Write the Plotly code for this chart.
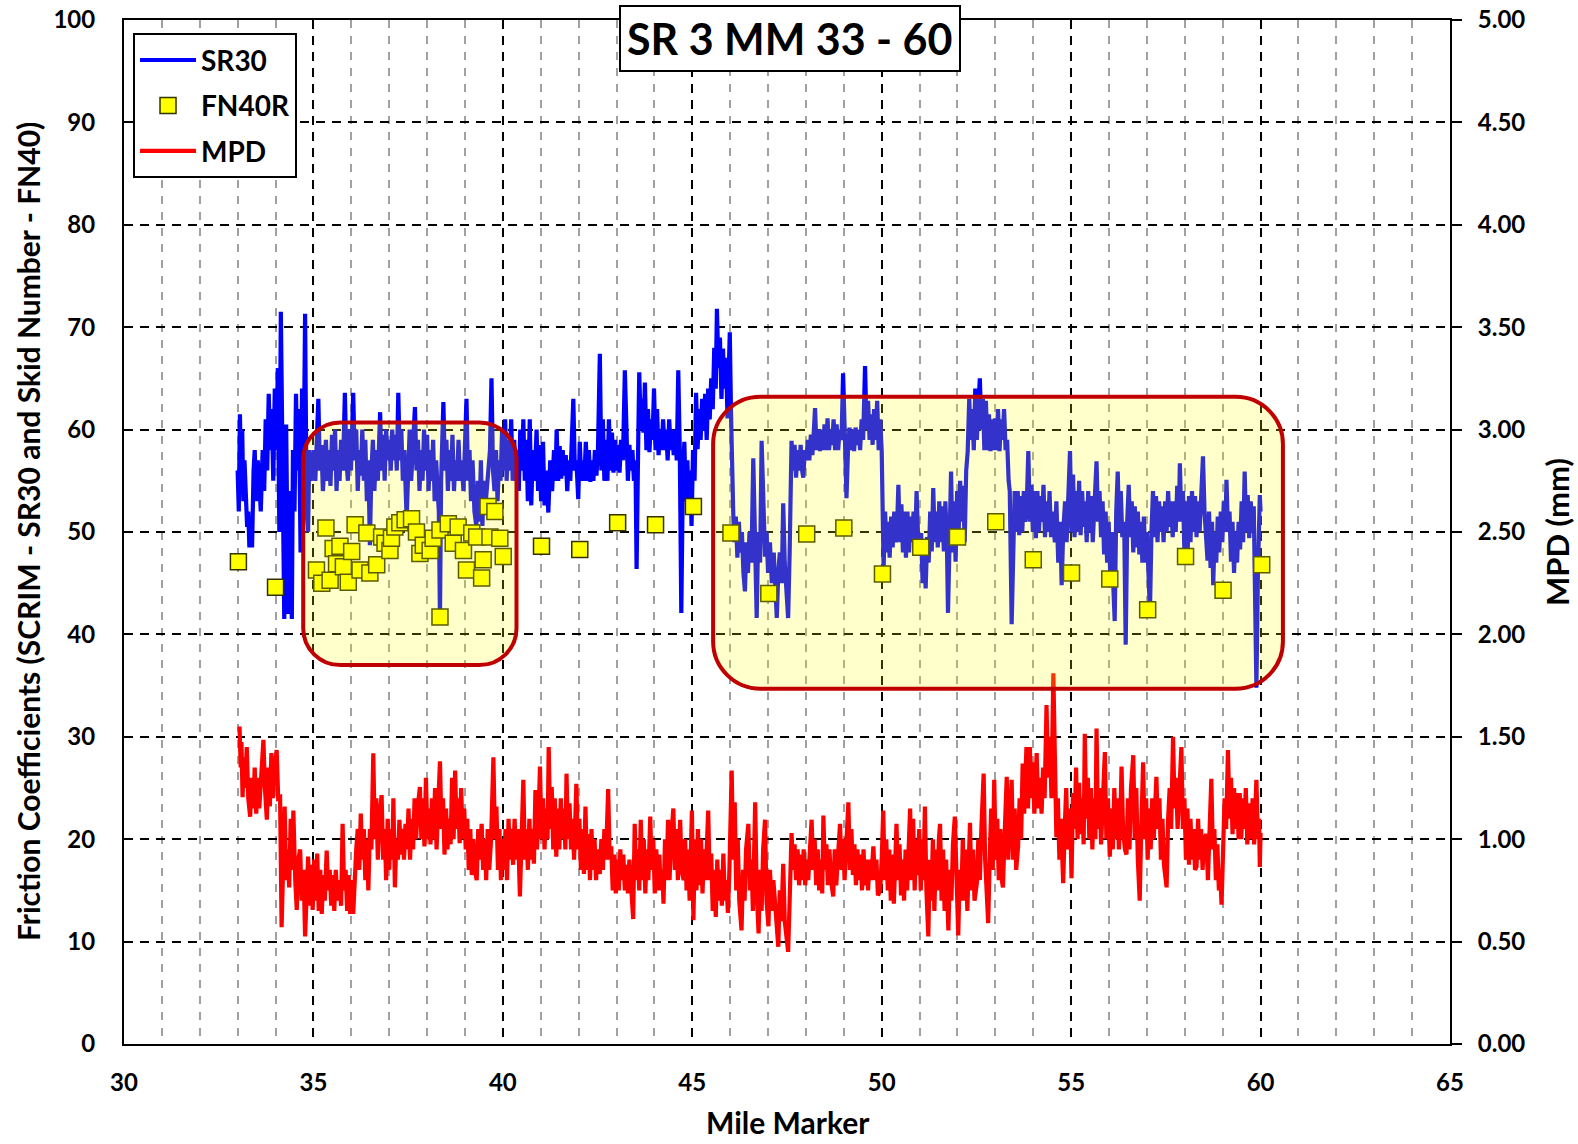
import plotly.graph_objects as go

# ---------------- data ----------------
sr30_points = [
(33.00,56),(33.03,52),(33.06,61.5),(33.09,55),(33.12,60),(33.15,53),(33.18,57),(33.21,54),(33.25,50.5),(33.28,52),
(33.31,48.5),(33.35,50),(33.38,48.5),(33.42,56),(33.45,58),(33.49,53),(33.53,57),(33.57,55),(33.61,52),(33.66,58),
(33.70,54),(33.74,61),(33.78,56),(33.82,63.5),(33.86,58),(33.90,62),(33.94,55),(33.98,64),(34.02,58),(34.06,66),
(34.10,50),(34.14,71.5),(34.17,60),(34.20,45),(34.23,41.5),(34.26,55),(34.28,60.5),(34.31,50),(34.34,42),(34.37,54),
(34.40,48),(34.43,41.5),(34.46,58),(34.50,52),(34.54,63.5),(34.58,56),(34.62,62),(34.66,48),(34.70,64),(34.74,55),
(34.78,71.3),(34.82,52),(34.86,50),(34.89,58),(34.93,55),(34.97,56),(35.01,58),(35.05,55),(35.09,59),(35.13,63),
(35.17,56),(35.21,58.5),(35.25,54),(35.29,57),(35.33,59),(35.37,55),(35.41,58),(35.45,54.5),(35.49,59.5),(35.53,56),
(35.57,60),(35.61,54),(35.65,58),(35.69,55),(35.73,59),(35.78,56),(35.83,63.6),(35.87,57),(35.91,55),(35.95,60),
(35.99,56),(36.05,63.6),(36.09,57),(36.13,60),(36.17,54),(36.21,58),(36.25,55.5),(36.29,60),(36.33,55),(36.37,59),
(36.41,53),(36.45,57),(36.49,48.7),(36.53,56),(36.57,59),(36.61,54),(36.65,58),(36.70,55),(36.76,61.7),(36.80,56),
(36.84,59.5),(36.88,55),(36.92,60),(36.96,57),(37.00,59),(37.04,56),(37.08,60),(37.12,57),(37.16,59.5),(37.20,56),
(37.24,63.6),(37.28,57),(37.32,60),(37.36,55),(37.40,58),(37.46,51.3),(37.50,57),(37.54,60),(37.58,55),(37.63,59),
(37.68,62.2),(37.72,56),(37.76,59),(37.80,54),(37.84,58),(37.88,55),(37.92,60),(37.96,56),(38.00,59.5),(38.04,54),
(38.08,58),(38.12,55),(38.16,59),(38.20,53),(38.24,57),(38.28,54),(38.31,52),(38.34,41.5),(38.37,55),(38.43,62.7),
(38.47,56),(38.51,59),(38.55,54),(38.59,58),(38.63,55),(38.67,59.5),(38.71,54),(38.75,57),(38.79,55),(38.83,59),
(38.87,55),(38.91,57),(38.96,54),(39.04,63),(39.08,55),(39.12,58),(39.16,53),(39.20,57),(39.25,52),(39.30,50.6),
(39.34,55),(39.38,51),(39.42,57),(39.46,50.6),(39.50,55),(39.55,53),(39.60,56),(39.66,58),(39.70,65),(39.74,56),
(39.78,54),(39.82,58),(39.86,53),(39.90,57),(39.94,55),(39.98,60),(40.02,56),(40.06,61),(40.10,55),(40.14,59),
(40.18,56),(40.22,61),(40.26,55),(40.30,59),(40.34,55),(40.38,58),(40.42,54),(40.46,60),(40.50,56),(40.54,61),
(40.58,55),(40.62,59),(40.66,53),(40.71,61),(40.75,52.6),(40.79,58),(40.84,55),(40.89,60),(40.93,54),(40.97,58.5),
(41.01,53),(41.06,58.8),(41.10,52.6),(41.15,56),(41.20,51.9),(41.25,57),(41.30,54),(41.35,58),(41.39,55),(41.42,60),
(41.46,55),(41.50,58.4),(41.54,55.2),(41.58,58),(41.62,55.5),(41.66,57.5),(41.70,54),(41.74,57),(41.78,55),(41.82,58),
(41.86,63),(41.90,56),(41.94,57),(41.99,53.2),(42.03,58.8),(42.07,55),(42.11,57),(42.15,55),(42.19,58.8),(42.23,55),
(42.27,58),(42.31,54.9),(42.35,57),(42.39,55),(42.43,58),(42.47,55.5),(42.51,58),(42.56,67.4),(42.60,56),(42.64,61),
(42.68,55),(42.72,59),(42.76,55),(42.80,61),(42.84,56),(42.88,59.7),(42.92,55.8),(42.96,59),(43.00,56),(43.04,58.5),
(43.08,55.8),(43.12,59),(43.17,57),(43.22,65.8),(43.26,58),(43.30,55),(43.34,58.5),(43.38,56),(43.42,58),(43.46,55),
(43.50,57),(43.53,46.4),(43.57,58),(43.60,65.6),(43.64,60),(43.68,63),(43.71,59.7),(43.75,64.6),(43.79,58),(43.83,62),
(43.87,57.8),(43.91,61),(43.95,59),(43.99,64),(44.03,58),(44.07,62),(44.11,57.5),(44.15,60),(44.19,58),(44.23,61),
(44.27,58),(44.31,60),(44.35,57),(44.39,61),(44.43,58),(44.47,60),(44.51,57.5),(44.55,60),(44.59,57),(44.63,65.8),
(44.67,58),(44.71,42.1),(44.75,55),(44.79,58.8),(44.83,53),(44.87,57),(44.91,52),(44.95,56),(44.98,50.6),(45.02,58),
(45.06,55),(45.10,63.6),(45.14,58.1),(45.18,62),(45.22,59),(45.26,63),(45.30,60),(45.34,63.5),(45.38,59),(45.42,64),
(45.46,61),(45.50,65),(45.54,62),(45.58,68),(45.62,64),(45.65,71.8),(45.69,66),(45.73,69),(45.77,63),(45.81,67.9),
(45.85,64),(45.89,67),(45.93,61.1),(45.96,66),(45.99,69.5),(46.02,62),(46.05,55.3),(46.08,52),(46.11,49),(46.15,51.5),
(46.19,47.5),(46.23,51),(46.27,48),(46.31,50),(46.35,46),(46.39,44.2),(46.43,49),(46.47,46),(46.51,50),(46.56,47),
(46.61,57.2),(46.65,48),(46.70,41.6),(46.74,50),(46.79,47),(46.83,58.9),(46.88,50),(46.92,47.6),(46.96,50),(47.00,46),
(47.05,49),(47.10,45),(47.15,48),(47.19,44),(47.23,41.6),(47.27,46),(47.31,48),(47.36,45),(47.40,52.8),(47.44,47),
(47.48,44),(47.53,41.6),(47.57,48),(47.62,58.9),(47.66,56),(47.70,58.5),(47.74,55.3),(47.78,58),(47.82,56),(47.86,58.5),
(47.90,56),(47.93,55.3),(47.97,58),(48.01,57),(48.05,59),(48.09,57),(48.13,59.5),(48.17,57.5),(48.21,60),(48.24,62.1),
(48.28,58),(48.33,60),(48.37,57.9),(48.41,60),(48.45,58),(48.49,60.5),(48.53,58),(48.57,61.1),(48.61,58),(48.65,60),
(48.69,58.5),(48.73,61),(48.77,58),(48.81,60.5),(48.85,58),(48.89,60),(48.94,59),(48.98,65.5),(49.03,59),(49.07,53.3),
(49.11,58),(49.15,60.2),(49.19,58),(49.23,60),(49.27,57.9),(49.31,60.2),(49.35,58.5),(49.39,60),(49.43,58),(49.47,61),
(49.51,59),(49.56,66.2),(49.60,60),(49.64,62.8),(49.68,59),(49.72,61.5),(49.76,58.5),(49.80,62),(49.84,59),(49.88,62.8),
(49.92,58),(49.96,61),(50.00,57.9),(50.02,50),(50.05,46.5),(50.09,52),(50.13,48),(50.17,51),(50.21,47.5),(50.25,51.5),
(50.29,48.5),(50.33,52),(50.37,49),(50.41,51),(50.44,54.6),(50.48,49),(50.52,52.7),(50.56,48),(50.60,52),(50.64,47.5),
(50.68,52),(50.72,48),(50.76,51.5),(50.80,49),(50.84,52),(50.88,48.5),(50.92,54),(50.96,49.5),(51.00,48),(51.04,49.9),
(51.08,45),(51.12,49),(51.16,44.5),(51.20,49.5),(51.24,47),(51.28,52),(51.32,48.1),(51.36,54.3),(51.40,49),(51.44,52),
(51.48,48.5),(51.52,53),(51.56,49),(51.60,52.5),(51.64,48.1),(51.68,53),(51.72,49),(51.75,42.1),(51.79,50),(51.83,55.9),
(51.87,48),(51.91,53),(51.95,47.1),(51.99,54),(52.03,50),(52.07,55),(52.11,51),(52.15,54.5),(52.19,49),(52.23,56),
(52.27,57.9),(52.31,63),(52.35,59),(52.39,62),(52.43,58),(52.47,64),(52.51,59),(52.55,62),(52.59,65),(52.63,60),
(52.67,63),(52.71,58),(52.75,62.8),(52.79,58),(52.83,61.5),(52.87,57.9),(52.91,61),(52.95,58),(52.99,61.1),(53.03,58),
(53.07,62),(53.11,57.9),(53.15,61),(53.19,59),(53.23,62),(53.27,58),(53.31,59),(53.35,55),(53.38,54),(53.43,41),
(53.47,48),(53.51,54),(53.55,50),(53.59,54),(53.63,49.7),(53.67,53.5),(53.71,50),(53.75,54),(53.79,51),(53.83,53),
(53.87,57.9),(53.91,51),(53.95,54.6),(53.99,50),(54.03,54),(54.07,49.4),(54.11,54),(54.15,50),(54.19,53.5),(54.23,51),
(54.27,54.6),(54.31,49.5),(54.35,53),(54.39,50),(54.43,54),(54.47,49.5),(54.51,52),(54.57,49),(54.61,53),(54.66,47),
(54.71,51),(54.75,44.8),(54.79,50),(54.84,53),(54.88,49),(54.92,53),(54.97,57.9),(55.01,50),(55.05,55.6),(55.09,49.5),
(55.13,54),(55.17,50),(55.21,55),(55.25,49.7),(55.29,54),(55.33,50.5),(55.37,53),(55.41,49),(55.45,54),(55.49,50),
(55.53,53.5),(55.57,49),(55.62,53),(55.67,56.9),(55.71,51),(55.75,54),(55.79,49.5),(55.83,53),(55.87,47.8),(55.91,52),
(55.95,47),(55.99,51),(56.03,46),(56.07,50),(56.11,45),(56.15,41.3),(56.19,52),(56.23,55.9),(56.27,50),(56.31,54),
(56.35,49.5),(56.40,51),(56.44,39),(56.48,51),(56.52,54.6),(56.56,49.5),(56.60,53),(56.64,48),(56.68,52.5),(56.72,48.5),
(56.76,52),(56.80,47.8),(56.84,51),(56.88,47),(56.92,51.5),(56.96,47),(57.00,50),(57.04,46),(57.08,42.2),(57.12,50),
(57.16,54),(57.20,49.5),(57.24,53.5),(57.28,49),(57.32,53),(57.36,50),(57.40,52.5),(57.44,49),(57.48,53),(57.52,50),
(57.56,54),(57.60,50.5),(57.64,53),(57.68,49.5),(57.72,53),(57.76,50),(57.80,54.5),(57.84,51),(57.87,56.7),(57.91,51),
(57.95,54),(57.99,48),(58.03,53),(58.07,47),(58.11,53.5),(58.15,49),(58.19,54),(58.23,50),(58.27,53.5),(58.31,49.5),
(58.35,53),(58.39,50),(58.44,54),(58.48,57.4),(58.52,52),(58.56,50),(58.60,47.2),(58.64,52),(58.68,46.5),(58.72,51),
(58.75,44.8),(58.79,50),(58.83,47),(58.87,51.5),(58.91,48),(58.95,52),(58.99,49),(59.03,53),(59.07,50),(59.10,55.1),
(59.14,50),(59.18,52),(59.22,47.1),(59.26,51),(59.30,46),(59.34,50),(59.38,47),(59.42,51),(59.46,48.3),(59.50,53),
(59.54,49),(59.58,55.9),(59.62,50),(59.66,53.6),(59.70,49.4),(59.74,53),(59.78,50),(59.82,52.5),(59.85,45),(59.89,34.8),
(59.93,46),(59.96,51),(59.98,53.6),(60.00,52),
]

fn40r_points = [
(33.02,47.1),(34.00,44.6),
(35.08,46.3),(35.22,45.0),(35.33,50.4),(35.44,45.3),(35.52,48.4),(35.61,46.9),(35.70,48.6),(35.79,46.6),(35.92,45.1),
(36.01,48.1),(36.10,50.7),(36.23,46.3),(36.41,49.9),(36.49,46.0),(36.67,46.8),(36.80,49.5),(36.89,48.9),(37.02,48.2),
(37.06,49.4),(37.15,50.5),(37.28,50.9),(37.42,51.2),(37.59,51.3),(37.72,50.0),(37.81,47.9),(37.90,48.7),(38.08,48.2),
(38.16,49.4),(38.34,50.2),(38.34,41.7),(38.56,50.8),(38.69,48.9),(38.82,50.5),(38.96,48.2),(39.04,46.3),(39.18,49.9),
(39.31,49.5),(39.44,45.5),(39.48,47.3),(39.61,52.5),(39.66,49.5),(39.79,52.0),(39.92,49.4),(40.01,47.6),
(41.02,48.6),(42.03,48.3),(43.03,50.9),(44.03,50.7),(45.03,52.5),(46.02,49.9),(47.02,44.0),(48.02,49.8),(49.00,50.4),
(50.02,45.9),(51.03,48.5),(52.00,49.5),(53.01,51.0),(54.00,47.3),(55.01,46.0),(56.02,45.4),(57.02,42.4),(58.02,47.6),
(59.01,44.3),(60.03,46.8),
]

mpd_points = [
(33.05,1.55),(33.08,1.35),(33.10,1.475),(33.13,1.205),(33.16,1.40),(33.20,1.25),(33.24,1.45),(33.28,1.20),(33.33,1.11),(33.37,1.30),
(33.41,1.15),(33.45,1.35),(33.49,1.125),(33.53,1.30),(33.57,1.15),(33.62,1.35),(33.68,1.485),(33.72,1.25),(33.77,1.095),(33.81,1.35),
(33.85,1.16),(33.89,1.42),(33.93,1.20),(33.97,1.35),(34.03,1.435),(34.07,1.20),(34.12,1.205),(34.16,0.57),(34.20,1.00),(34.24,1.16),
(34.28,0.80),(34.32,0.95),(34.36,0.765),(34.40,1.10),(34.44,0.85),(34.47,1.14),(34.52,0.80),(34.56,0.655),(34.60,0.90),(34.65,0.95),
(34.69,0.70),(34.74,0.85),(34.78,0.525),(34.82,0.80),(34.86,0.915),(34.90,0.675),(34.94,0.875),(34.98,0.655),(35.02,0.90),(35.06,0.70),
(35.10,0.93),(35.14,0.65),(35.18,0.85),(35.22,0.635),(35.26,0.825),(35.30,0.70),(35.35,0.945),(35.39,0.75),(35.43,0.85),(35.47,0.675),
(35.51,0.825),(35.55,0.65),(35.59,0.85),(35.63,0.70),(35.68,0.80),(35.73,0.675),(35.77,1.075),(35.81,0.75),(35.85,0.85),(35.89,0.65),
(35.93,0.825),(35.97,0.635),(36.01,0.80),(36.05,0.635),(36.09,0.85),(36.13,0.95),(36.17,1.05),(36.21,0.85),(36.25,1.125),(36.29,0.90),
(36.33,1.05),(36.37,0.80),(36.41,1.00),(36.45,0.75),(36.49,1.05),(36.53,0.95),(36.58,1.42),(36.62,1.00),(36.66,1.20),(36.70,0.90),
(36.74,1.10),(36.80,1.215),(36.84,0.90),(36.88,1.05),(36.92,0.80),(36.96,1.10),(37.00,0.85),(37.04,1.05),(37.08,0.90),(37.11,1.20),
(37.15,0.765),(37.19,1.00),(37.23,0.90),(37.27,1.095),(37.31,0.925),(37.35,1.05),(37.39,0.90),(37.43,1.075),(37.47,0.95),(37.51,1.15),
(37.55,0.90),(37.59,1.10),(37.63,0.95),(37.67,1.20),(37.71,1.00),(37.75,1.15),(37.81,1.255),(37.85,1.00),(37.89,1.20),(37.93,0.965),
(37.97,1.30),(38.01,1.00),(38.05,1.15),(38.09,0.975),(38.13,1.20),(38.17,1.00),(38.21,1.25),(38.25,0.95),(38.29,1.15),(38.34,1.38),
(38.38,1.05),(38.42,1.20),(38.46,0.925),(38.50,1.15),(38.54,0.95),(38.58,1.10),(38.62,0.975),(38.66,1.30),(38.70,1.00),(38.74,1.335),
(38.78,1.05),(38.82,1.20),(38.86,0.98),(38.90,1.25),(38.94,1.00),(38.98,1.15),(39.02,0.95),(39.06,1.10),(39.10,0.85),(39.14,1.05),
(39.18,0.825),(39.22,1.00),(39.26,0.85),(39.31,0.80),(39.35,1.05),(39.39,0.90),(39.44,1.075),(39.48,0.85),(39.52,1.00),(39.56,0.80),
(39.60,1.05),(39.64,0.85),(39.69,1.00),(39.75,1.40),(39.79,1.00),(39.83,1.16),(39.87,0.85),(39.91,1.05),(39.95,0.80),(39.99,1.00),
(40.03,0.85),(40.07,1.05),(40.11,0.80),(40.15,1.10),(40.19,0.90),(40.23,1.05),(40.27,0.875),(40.31,1.10),(40.35,0.90),(40.40,1.05),
(40.45,0.72),(40.50,1.00),(40.54,1.29),(40.58,0.90),(40.62,1.05),(40.66,0.85),(40.70,1.10),(40.74,0.90),(40.78,1.05),(40.82,0.88),
(40.86,1.24),(40.90,0.95),(40.94,1.10),(40.98,1.355),(41.02,1.00),(41.06,1.20),(41.10,0.95),(41.14,1.15),(41.18,1.00),(41.21,1.45),
(41.25,1.05),(41.29,1.255),(41.33,0.95),(41.37,1.20),(41.41,0.915),(41.45,1.15),(41.49,0.95),(41.53,1.20),(41.57,1.00),(41.61,1.15),
(41.65,0.95),(41.68,1.32),(41.72,1.00),(41.76,1.175),(41.80,0.95),(41.84,1.10),(41.88,0.90),(41.94,1.27),(41.98,0.95),(42.02,1.10),
(42.06,0.85),(42.10,1.05),(42.14,0.83),(42.18,1.16),(42.22,0.85),(42.26,1.025),(42.30,0.80),(42.34,1.05),(42.38,0.85),(42.42,1.00),
(42.46,0.80),(42.50,0.95),(42.56,0.83),(42.60,1.00),(42.64,0.85),(42.68,1.05),(42.72,0.90),(42.78,1.245),(42.82,0.90),(42.86,0.965),
(42.90,0.75),(42.94,0.925),(42.98,0.735),(43.02,0.90),(43.06,0.75),(43.10,0.95),(43.14,0.80),(43.18,0.925),(43.22,0.75),(43.26,0.875),
(43.30,0.735),(43.34,0.90),(43.38,0.75),(43.44,0.61),(43.48,1.075),(43.52,0.80),(43.56,0.95),(43.60,0.75),(43.64,1.095),(43.68,0.80),
(43.72,1.00),(43.76,0.735),(43.80,0.95),(43.84,0.80),(43.89,1.11),(43.93,0.85),(43.97,1.00),(44.01,0.735),(44.05,0.95),(44.09,0.75),
(44.13,0.925),(44.17,0.75),(44.21,0.85),(44.24,0.685),(44.28,1.00),(44.32,0.80),(44.36,1.095),(44.40,0.80),(44.44,1.00),(44.50,1.15),
(44.54,0.85),(44.58,1.05),(44.62,0.80),(44.68,1.095),(44.72,0.85),(44.77,0.80),(44.81,1.00),(44.85,0.75),(44.89,0.95),(44.93,0.70),
(44.99,1.14),(45.03,0.605),(45.07,1.00),(45.11,0.75),(45.15,1.05),(45.19,0.775),(45.23,1.00),(45.27,0.735),(45.31,0.95),(45.35,0.80),
(45.42,1.14),(45.46,0.80),(45.50,0.93),(45.54,0.65),(45.58,0.85),(45.62,0.62),(45.66,0.90),(45.70,0.70),(45.74,0.85),(45.78,0.675),
(45.82,0.93),(45.86,0.70),(45.90,0.80),(45.94,0.64),(45.98,0.85),(46.04,1.335),(46.08,0.90),(46.12,1.18),(46.16,0.75),(46.20,1.00),
(46.24,0.70),(46.30,0.555),(46.34,0.85),(46.38,0.70),(46.42,0.95),(46.48,1.075),(46.52,0.75),(46.56,0.90),(46.60,0.65),(46.66,1.18),
(46.70,0.75),(46.75,0.54),(46.79,0.85),(46.83,0.65),(46.87,0.95),(46.92,1.095),(46.96,0.70),(47.01,0.575),(47.05,0.85),(47.10,0.65),
(47.14,0.80),(47.18,0.72),(47.22,0.60),(47.27,0.475),(47.31,0.75),(47.35,0.60),(47.40,0.88),(47.44,0.60),(47.49,0.525),(47.53,0.45),
(47.57,0.70),(47.62,1.03),(47.66,0.85),(47.70,0.975),(47.74,0.80),(47.78,0.95),(47.82,0.775),(47.86,0.925),(47.90,0.80),(47.94,0.95),
(47.98,0.775),(48.02,0.90),(48.06,0.80),(48.10,0.975),(48.15,1.095),(48.19,0.85),(48.23,1.00),(48.27,0.775),(48.31,0.95),(48.35,0.75),
(48.39,0.90),(48.43,0.735),(48.46,1.115),(48.50,0.85),(48.54,0.975),(48.58,0.775),(48.62,0.95),(48.66,0.80),(48.72,0.72),(48.76,0.95),
(48.80,0.775),(48.84,0.90),(48.90,1.075),(48.94,0.85),(48.98,1.00),(49.02,0.80),(49.06,0.95),(49.12,1.18),(49.16,0.85),(49.20,1.05),
(49.24,0.825),(49.28,0.975),(49.32,0.775),(49.36,0.95),(49.40,0.80),(49.44,0.925),(49.48,0.75),(49.52,0.95),(49.56,0.775),(49.60,0.90),
(49.64,0.75),(49.68,0.90),(49.72,0.80),(49.78,0.965),(49.82,0.80),(49.86,0.90),(49.90,0.725),(49.96,0.75),(50.00,0.90),(50.04,1.14),
(50.08,0.80),(50.12,1.00),(50.16,0.75),(50.20,0.95),(50.24,0.70),(50.28,0.925),(50.32,0.685),(50.36,0.95),(50.39,1.075),(50.43,0.80),
(50.47,0.975),(50.51,0.725),(50.55,0.90),(50.59,0.70),(50.63,0.95),(50.67,0.75),(50.71,0.90),(50.75,1.15),(50.79,0.80),(50.83,1.10),
(50.87,0.75),(50.91,1.00),(50.95,0.825),(50.99,1.05),(51.03,0.75),(51.07,1.00),(51.10,0.80),(51.14,1.16),(51.18,0.75),(51.23,0.525),
(51.27,0.90),(51.31,0.70),(51.35,1.00),(51.39,0.65),(51.43,0.95),(51.47,0.75),(51.51,1.00),(51.54,1.075),(51.58,0.70),(51.62,0.95),
(51.66,0.65),(51.70,0.90),(51.76,0.555),(51.80,0.85),(51.84,0.70),(51.88,0.975),(51.93,1.11),(51.97,0.75),(52.02,0.53),(52.06,0.85),
(52.10,0.70),(52.14,1.00),(52.18,0.70),(52.22,0.95),(52.26,0.65),(52.30,0.90),(52.33,1.08),(52.37,0.75),(52.41,0.95),(52.45,0.70),
(52.51,0.785),(52.55,1.00),(52.59,0.80),(52.63,1.05),(52.69,1.32),(52.73,0.90),(52.77,0.70),(52.81,0.59),(52.85,0.90),(52.89,1.15),
(52.93,0.85),(52.97,1.29),(53.01,0.90),(53.05,1.10),(53.09,0.80),(53.13,1.05),(53.17,0.80),(53.20,0.765),(53.24,1.00),(53.30,1.305),
(53.34,0.90),(53.38,1.125),(53.43,1.29),(53.47,0.90),(53.51,1.15),(53.55,0.85),(53.60,0.965),(53.64,1.20),(53.68,1.00),(53.72,1.37),
(53.76,1.125),(53.82,1.45),(53.86,1.15),(53.91,1.45),(53.95,1.20),(53.99,1.375),(54.03,1.125),(54.09,1.42),(54.13,1.15),(54.17,1.30),
(54.22,1.125),(54.26,1.35),(54.30,1.20),(54.35,1.655),(54.39,1.30),(54.44,1.50),(54.48,1.20),(54.53,1.81),(54.57,1.40),(54.61,1.01),
(54.65,1.20),(54.69,0.90),(54.73,1.10),(54.79,0.785),(54.83,1.05),(54.87,1.25),(54.91,0.95),(54.97,1.15),(55.01,0.81),(55.05,1.225),
(55.09,1.05),(55.13,1.35),(55.17,1.00),(55.21,1.275),(55.25,1.025),(55.29,1.20),(55.33,0.975),(55.36,1.515),(55.40,1.10),(55.44,1.30),
(55.48,1.00),(55.52,1.25),(55.56,0.95),(55.60,1.20),(55.64,1.00),(55.67,1.54),(55.71,1.05),(55.75,1.25),(55.79,0.975),(55.83,1.20),
(55.89,1.425),(55.93,1.00),(55.97,1.20),(56.02,0.915),(56.06,1.15),(56.10,0.95),(56.14,1.25),(56.18,1.00),(56.22,1.20),(56.26,0.95),
(56.30,1.10),(56.33,1.355),(56.37,1.05),(56.42,0.95),(56.46,0.925),(56.50,1.20),(56.54,0.95),(56.58,1.25),(56.64,1.41),(56.68,1.00),
(56.72,1.25),(56.76,0.90),(56.81,0.70),(56.85,1.05),(56.90,1.375),(56.94,1.00),(56.98,1.20),(57.02,0.90),(57.06,1.15),(57.10,0.95),
(57.14,1.20),(57.18,1.00),(57.25,1.305),(57.29,1.05),(57.33,1.20),(57.37,0.90),(57.41,1.10),(57.45,0.875),(57.52,0.765),(57.56,1.10),
(57.60,1.25),(57.64,1.05),(57.69,1.50),(57.73,1.15),(57.77,1.30),(57.81,1.05),(57.85,1.25),(57.91,1.45),(57.95,1.05),(57.99,1.20),
(58.03,0.90),(58.07,1.15),(58.11,0.875),(58.15,1.10),(58.19,0.90),(58.23,1.05),(58.27,0.85),(58.31,0.865),(58.35,1.10),(58.39,0.90),
(58.43,1.05),(58.47,0.85),(58.51,1.00),(58.57,1.025),(58.61,0.80),(58.65,1.00),(58.70,1.295),(58.74,0.95),(58.78,1.05),(58.82,0.80),
(58.86,0.975),(58.90,0.75),(58.93,0.85),(58.97,0.68),(59.01,0.95),(59.05,1.20),(59.09,1.05),(59.14,1.435),(59.18,1.10),(59.22,1.30),
(59.26,1.025),(59.30,1.25),(59.34,1.05),(59.38,1.225),(59.42,1.00),(59.45,1.225),(59.49,1.00),(59.53,1.20),(59.57,1.05),(59.61,1.25),
(59.65,0.975),(59.71,1.175),(59.75,1.00),(59.79,1.20),(59.83,0.975),(59.89,1.29),(59.93,1.00),(59.96,1.10),(59.98,0.865),(60.00,1.03),
]

sr30_mile = [p[0] for p in sr30_points]
sr30 = [p[1] for p in sr30_points]
fn40r_mile = [p[0] for p in fn40r_points]
fn40r = [p[1] for p in fn40r_points]
mpd_mile = [p[0] for p in mpd_points]
mpd = [p[1] for p in mpd_points]

x_ticks = [30, 35, 40, 45, 50, 55, 60, 65]
y_ticks = [0, 10, 20, 30, 40, 50, 60, 70, 80, 90, 100]
y2_ticks = [0, 0.5, 1, 1.5, 2, 2.5, 3, 3.5, 4, 4.5, 5]

title_text = "SR 3 MM 33 - 60"
# highlighted sections (mile range, friction range, corner radii)
highlights = [(34.73, 40.36, 37.0, 60.7, 0.98, 3.6), (45.55, 60.59, 34.7, 63.2, 1.25, 4.6)]

FONT = "Lato"

fig = go.Figure()
fig.add_trace(go.Scatter(x=sr30_mile, y=sr30, mode="lines", name="SR30",
                         line=dict(color="#0000FF", width=4.2), legendgroup="a"))
fig.add_trace(go.Scatter(x=fn40r_mile, y=fn40r, mode="markers", name="FN40R",
                         marker=dict(symbol="square", size=16, color="#FFFF00",
                                     line=dict(color="#333300", width=1.5)), legendgroup="b"))
fig.add_trace(go.Scatter(x=mpd_mile, y=mpd, mode="lines", name="MPD", yaxis="y2",
                         line=dict(color="#FF0000", width=4.2), legendgroup="c"))

def rounded_path(x0, x1, y0, y1, rx, ry):
    k = 0.552
    return (f"M {x0+rx},{y1} L {x1-rx},{y1} "
            f"C {x1-rx+k*rx},{y1} {x1},{y1-ry+k*ry} {x1},{y1-ry} "
            f"L {x1},{y0+ry} "
            f"C {x1},{y0+ry-k*ry} {x1-rx+k*rx},{y0} {x1-rx},{y0} "
            f"L {x0+rx},{y0} "
            f"C {x0+rx-k*rx},{y0} {x0},{y0+ry-k*ry} {x0},{y0+ry} "
            f"L {x0},{y1-ry} "
            f"C {x0},{y1-ry+k*ry} {x0+rx-k*rx},{y1} {x0+rx},{y1} Z")

shapes = []
for (x0, x1, y0, y1, rx, ry) in highlights:
    shapes.append(dict(type="path", xref="x", yref="y", path=rounded_path(x0, x1, y0, y1, rx, ry),
                       fillcolor="rgba(255,255,0,0.2)", line=dict(color="#C00000", width=4),
                       layer="above"))

tickfont = dict(family=FONT, size=24, color="black", weight="bold")

fig.update_layout(
    width=1578, height=1144,
    margin=dict(l=124, r=128, t=20, b=100, autoexpand=False),
    paper_bgcolor="white", plot_bgcolor="white",
    shapes=shapes,
    showlegend=True,
    legend=dict(x=0.0068, y=0.987, xanchor="left", yanchor="top",
                bgcolor="white", bordercolor="black", borderwidth=2,
                font=dict(family=FONT, size=28, color="black", weight="bold"),
                tracegroupgap=6, itemwidth=56, entrywidth=160),
    xaxis=dict(range=[30, 65], tickvals=x_ticks, showgrid=True, gridcolor="black", gridwidth=1.5,
               griddash="9px,7px", zeroline=False, automargin=False,
               minor=dict(dtick=1, showgrid=True, gridcolor="#A0A0A0", gridwidth=1.5, griddash="8px,8px"),
               showline=True, linecolor="black", linewidth=2, mirror=True, ticks="",
               tickfont=tickfont, ticklabelstandoff=16),
    yaxis=dict(range=[0, 100], tickvals=y_ticks, showgrid=True, gridcolor="black", gridwidth=1.5,
               griddash="9px,7px", zeroline=False, showline=True, linecolor="black", linewidth=2,
               mirror=True, ticks="", tickfont=tickfont, ticklabelstandoff=22, automargin=False),
    yaxis2=dict(range=[0, 5], tickvals=y2_ticks, tickformat=".2f", overlaying="y", side="right",
                showgrid=False, zeroline=False, showline=True, linecolor="black", linewidth=2,
                ticks="outside", ticklen=10, tickwidth=2, tickcolor="black", automargin=False,
                tickfont=tickfont, ticklabelstandoff=11),
    annotations=[
        dict(text=title_text, xref="paper", yref="paper", x=0.502, y=(1044 - 38) / 1024, xanchor="center",
             yanchor="middle", showarrow=False, bgcolor="white", bordercolor="black", borderwidth=2,
             borderpad=6, font=dict(family=FONT, size=43, color="black", weight="bold")),
        dict(text="Friction Coefficients (SCRIM - SR30 and Skid Number - FN40)", xref="paper", yref="paper",
             x=(28 - 124) / 1326, y=(1044 - 532) / 1024, textangle=-90, showarrow=False,
             xanchor="center", yanchor="middle",
             font=dict(family=FONT, size=30, color="black", weight="bold")),
        dict(text="MPD (mm)", xref="paper", yref="paper", x=(1557 - 124) / 1326, y=(1044 - 532) / 1024,
             textangle=-90, showarrow=False, xanchor="center", yanchor="middle",
             font=dict(family=FONT, size=31, color="black", weight="bold")),
        dict(text="Mile Marker", xref="paper", yref="paper", x=0.5008, y=-(1122 - 1044) / 1024, showarrow=False,
             xanchor="center", yanchor="middle",
             font=dict(family=FONT, size=30, color="black", weight="bold")),
    ],
)

fig.write_html("out.html")
